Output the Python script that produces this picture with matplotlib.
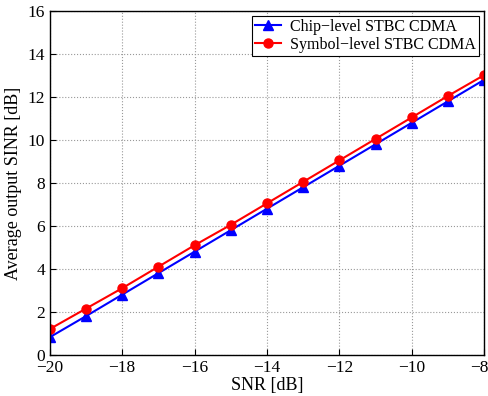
import numpy as np
import matplotlib
matplotlib.use('Agg')
import matplotlib.pyplot as plt
import matplotlib.transforms as mtransforms

plt.rcParams['font.family'] = ['Liberation Serif', 'DejaVu Serif']
plt.rcParams['mathtext.fontset'] = 'stix'

# data
snr = [-20, -19, -18, -17, -16, -15, -14, -13, -12, -11, -10, -9, -8]
chip_level = [0.82, 1.8, 2.8, 3.8, 4.8, 5.8, 6.8, 7.8, 8.8, 9.8, 10.8, 11.8, 12.8]
symbol_level = [1.2, 2.15, 3.1, 4.1, 5.1, 6.05, 7.05, 8.05, 9.05, 10.05, 11.05, 12.05, 13.02]

fig = plt.figure(figsize=(4.88, 3.96), dpi=100)
ax = fig.add_axes([0.102, 0.104, 0.89, 0.868])

ax.plot(snr, chip_level, color='blue', marker='^', markersize=6.5, linewidth=1.5,
        label='Chip\u2212level STBC CDMA')
ax.plot(snr, symbol_level, color='red', marker='o', markersize=6.5, linewidth=1.5,
        label='Symbol\u2212level STBC CDMA')

ax.set_xlim(-20, -8)
ax.set_ylim(0, 16)
ax.set_xticks(np.arange(-20, -7, 2))
ax.set_yticks(np.arange(0, 17, 2))
ax.grid(True, linestyle=':', color='#999999', linewidth=0.8)
ax.tick_params(direction='in', labelsize=12.5, length=4)
for s in ax.spines.values():
    s.set_linewidth(1.0)

# nudge the last x tick label so it stays inside the figure
last = ax.get_xticklabels()[-1]
last.set_transform(last.get_transform() +
                   mtransforms.ScaledTranslation(-5 / 100, 0, fig.dpi_scale_trans))

ax.set_xlabel('SNR [dB]', fontsize=13, labelpad=1)
ax.set_ylabel('Average output SINR [dB]', fontsize=13, labelpad=4)

leg = ax.legend(loc='upper right', fontsize=11.5, fancybox=False, framealpha=1,
                edgecolor='black', borderaxespad=0.3, handlelength=1.6,
                borderpad=0.2, labelspacing=0.1, handletextpad=0.6)
leg.get_frame().set_linewidth(0.8)

fig.savefig('out.png', dpi=100)
